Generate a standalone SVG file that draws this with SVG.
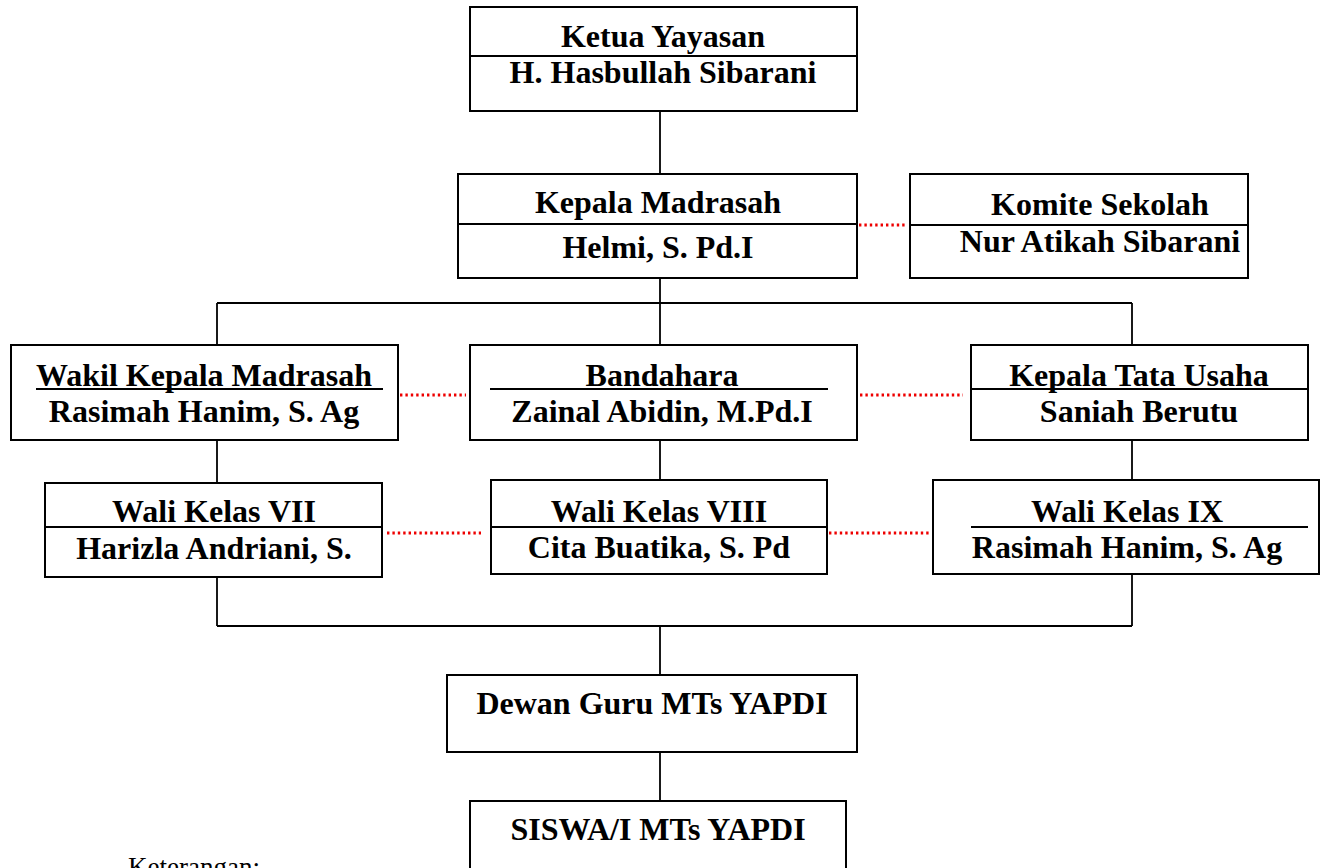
<svg xmlns="http://www.w3.org/2000/svg" width="1325" height="868" viewBox="0 0 1325 868">
<style>
.box{fill:#fff;stroke:#000;stroke-width:2}
.div{stroke:#000;stroke-width:1.8}
.t{font-family:"Liberation Serif","Times New Roman",serif;font-weight:bold;font-size:32px;text-anchor:middle;fill:#000}
.conn line{stroke:#000;stroke-width:1.8}
.dot line{stroke:#e00;stroke-width:2.8;stroke-dasharray:2.4 3}
.note{font-family:"Liberation Serif","Times New Roman",serif;font-size:27px;fill:#000}
</style>
<rect width="1325" height="868" fill="#fff"/>
<g id="connectors" class="conn">
<line x1="660" y1="111" x2="660" y2="174"/>
<line x1="660" y1="278" x2="660" y2="303"/>
<line x1="217" y1="303" x2="1132" y2="303"/>
<line x1="217" y1="303" x2="217" y2="345"/>
<line x1="660" y1="303" x2="660" y2="345"/>
<line x1="1132" y1="303" x2="1132" y2="345"/>
<line x1="217" y1="440" x2="217" y2="483"/>
<line x1="660" y1="440" x2="660" y2="480"/>
<line x1="1132" y1="440" x2="1132" y2="480"/>
<line x1="217" y1="577" x2="217" y2="626"/>
<line x1="1132" y1="574" x2="1132" y2="626"/>
<line x1="217" y1="626" x2="1132" y2="626"/>
<line x1="660" y1="626" x2="660" y2="675"/>
<line x1="660" y1="752" x2="660" y2="801"/>
</g>
<g id="dotted-links" class="dot">
<line x1="859" y1="225" x2="907" y2="225"/>
<line x1="400" y1="395" x2="466" y2="395"/>
<line x1="860" y1="395" x2="963" y2="395"/>
<line x1="387" y1="533" x2="481" y2="533"/>
<line x1="829" y1="533" x2="930" y2="533"/>
</g>
<g id="ketua">
<rect class="box" x="470" y="7" width="387" height="104"/>
<line class="div" x1="470" y1="56" x2="857" y2="56"/>
<text class="t" x="663" y="47">Ketua Yayasan</text>
<text class="t" x="663" y="83">H. Hasbullah Sibarani</text>
</g>
<g id="kepala">
<rect class="box" x="458" y="174" width="399" height="104"/>
<line class="div" x1="458" y1="224" x2="857" y2="224"/>
<text class="t" x="658" y="213">Kepala Madrasah</text>
<text class="t" x="658" y="258">Helmi, S. Pd.I</text>
</g>
<g id="komite">
<rect class="box" x="910" y="174" width="338" height="104"/>
<line class="div" x1="910" y1="225" x2="1248" y2="225"/>
<text class="t" x="1100" y="215">Komite Sekolah</text>
<text class="t" x="1100" y="252">Nur Atikah Sibarani</text>
</g>
<g id="wakil">
<rect class="box" x="11" y="345" width="387" height="95"/>
<line class="div" x1="36" y1="389" x2="383" y2="389"/>
<text class="t" x="204" y="386">Wakil Kepala Madrasah</text>
<text class="t" x="204" y="422">Rasimah Hanim, S. Ag</text>
</g>
<g id="bandahara">
<rect class="box" x="470" y="345" width="387" height="95"/>
<line class="div" x1="490" y1="389" x2="828" y2="389"/>
<text class="t" x="662" y="386">Bandahara</text>
<text class="t" x="662" y="422">Zainal Abidin, M.Pd.I</text>
</g>
<g id="tata-usaha">
<rect class="box" x="971" y="345" width="337" height="95"/>
<line class="div" x1="971" y1="389" x2="1308" y2="389"/>
<text class="t" x="1139" y="386">Kepala Tata Usaha</text>
<text class="t" x="1139" y="422">Saniah Berutu</text>
</g>
<g id="wali7">
<rect class="box" x="45" y="483" width="337" height="94"/>
<line class="div" x1="45" y1="527" x2="382" y2="527"/>
<text class="t" x="214" y="522">Wali Kelas VII</text>
<text class="t" x="214" y="559">Harizla Andriani, S.</text>
</g>
<g id="wali8">
<rect class="box" x="491" y="480" width="336" height="94"/>
<line class="div" x1="491" y1="527" x2="827" y2="527"/>
<text class="t" x="659" y="522">Wali Kelas VIII</text>
<text class="t" x="659" y="558">Cita Buatika, S. Pd</text>
</g>
<g id="wali9">
<rect class="box" x="933" y="480" width="386" height="94"/>
<line class="div" x1="971" y1="527" x2="1308" y2="527"/>
<text class="t" x="1127" y="522">Wali Kelas IX</text>
<text class="t" x="1127" y="558">Rasimah Hanim, S. Ag</text>
</g>
<g id="dewan-guru">
<rect class="box" x="447" y="675" width="410" height="77"/>
<text class="t" x="652" y="714">Dewan Guru MTs YAPDI</text>
</g>
<g id="siswa">
<rect class="box" x="470" y="801" width="376" height="80"/>
<text class="t" x="658" y="840">SISWA/I MTs YAPDI</text>
</g>
<text class="note" x="128" y="876">Keterangan:</text>
</svg>
